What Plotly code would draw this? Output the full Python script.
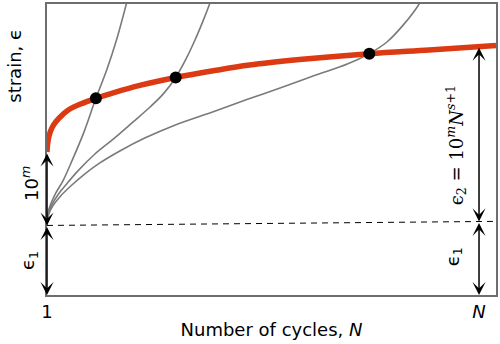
import plotly.graph_objects as go

# ---- data (arbitrary schematic units: N from "1" (0) to "N" (100); strain 0..100) ----
red_N = [0, 0.12, 0.35, 0.81, 1.62, 3.0, 4.85, 7.62, 11.32, 15.7, 21.48, 29.79, 38.8, 46.88,
         58.43, 74.6, 88.45, 103.93]
red_eps = [49.15, 51.54, 53.92, 56.31, 58.7, 61.09, 63.48, 65.53, 67.58, 69.62, 72.01, 74.74,
           77.13, 79.01, 80.89, 82.94, 84.23, 85.73]

A_N = [0, 0.23, 0.92, 2.08, 3.70, 5.77, 8.55, 11.32, 13.86, 16.17, 18.48, 18.71]
A_eps = [23.89, 28.33, 31.40, 35.15, 39.25, 46.08, 55.97, 67.58, 77.47, 88.05, 100.68, 102.05]

B_N = [0, 0.35, 1.15, 2.54, 4.39, 7.16, 11.09, 15.47, 19.86, 23.79, 27.02, 29.79, 32.10,
       34.18, 36.03, 37.64, 37.88]
B_eps = [23.89, 27.99, 31.06, 34.47, 37.88, 42.66, 48.46, 53.75, 59.39, 64.51, 69.28, 74.74,
         80.89, 87.37, 93.86, 100.0, 101.02]

C_N = [0, 0.46, 1.39, 3.00, 5.31, 8.78, 12.24, 16.86, 22.63, 29.56, 38.80, 46.42, 54.27,
       61.89, 69.52, 74.60, 78.75, 82.68, 86.14, 86.61]
C_eps = [23.89, 27.99, 30.72, 33.79, 37.20, 41.64, 45.39, 49.49, 53.92, 58.36, 63.14, 67.24,
         71.33, 75.43, 79.35, 82.94, 87.03, 93.17, 100.0, 101.37]

cross_N = [11.32, 29.79, 74.6]
cross_eps = [67.58, 74.74, 82.94]

eps1_N = [0, 103.93]
eps1_eps = [23.9, 25.3]

N_end = 100
eps2_end = 85.5

tick_vals = [0, 100]
tick_text = ["1", "<i>N</i>"]

x_range = [0, 103.93]
y_range = [0, 100]

GRAY = "#7a7a7a"
RED = "#dc3a12"
SANS = "DejaVu Sans"
SERIF = "DejaVu Serif"

fig = go.Figure()
for xs, ys in [(A_N, A_eps), (B_N, B_eps), (C_N, C_eps)]:
    fig.add_trace(go.Scatter(x=xs, y=ys, mode="lines",
                             line=dict(color=GRAY, width=1.6, shape="spline", smoothing=1.0),
                             hoverinfo="skip"))
fig.add_trace(go.Scatter(x=eps1_N, y=eps1_eps, mode="lines",
                         line=dict(color="black", width=1, dash="6px,5px"), hoverinfo="skip"))
fig.add_trace(go.Scatter(x=red_N, y=red_eps, mode="lines",
                         line=dict(color=RED, width=5.5, shape="spline", smoothing=1.0),
                         hoverinfo="skip"))
fig.add_trace(go.Scatter(x=cross_N, y=cross_eps, mode="markers",
                         marker=dict(color="black", size=12), hoverinfo="skip"))

# double-headed arrows
arrows = [
    (0, red_eps[0], 0, eps1_eps[0]),
    (0, eps1_eps[0], 0, 0),
    (N_end, eps2_end, N_end, eps1_eps[1]),
    (N_end, eps1_eps[1], N_end, 0),
]
for x0, y0, x1, y1 in arrows:
    fig.add_annotation(x=x1, y=y1, ax=x0, ay=y0, xref="x", yref="y", axref="x", ayref="y",
                       text="", showarrow=True, arrowside="end+start",
                       arrowhead=3, startarrowhead=3, arrowsize=1.45, startarrowsize=1.45,
                       arrowwidth=1.5, arrowcolor="black", standoff=0, startstandoff=0)

# rotated labels: (text, N position, strain position, font, size)
labels = [
    ("strain, ϵ", -7.4, 78.8, SANS, 18),
    ("10<sup><i>m</i></sup>", -3.9, 38.2, SANS, 18),
    ("ϵ<sub>1</sub>", -4.3, 11.8, SANS, 18),
    ("ϵ<sub>1</sub>", 94.2, 13.3, SANS, 18),
    ("ϵ<sub>2</sub> = 10<sup><i>m</i></sup><i>N</i><sup><i>s</i>+1</sup>", 94.7, 51.5, SERIF, 18),
]
for t, x, y, f, s in labels:
    fig.add_annotation(x=x / x_range[1], y=y / y_range[1], xref="paper", yref="paper",
                       text=t, showarrow=False, textangle=-90,
                       xanchor="center", yanchor="middle",
                       font=dict(family=f, size=s, color="black"))

fig.update_layout(
    width=500, height=344,
    margin=dict(l=47, r=3, t=2, b=49),
    paper_bgcolor="white", plot_bgcolor="white",
    showlegend=False,
    font=dict(family=SANS, size=18, color="black"),
    xaxis=dict(range=x_range, showgrid=False, zeroline=False, showline=True, mirror=True,
               linecolor="#6e6e6e", linewidth=1.5, tickvals=tick_vals, ticktext=tick_text,
               ticks="", tickfont=dict(size=18, family=SANS),
               title=dict(text="Number of cycles, <i>N</i>", font=dict(size=18, family=SANS),
                          standoff=2)),
    yaxis=dict(range=y_range, showgrid=False, zeroline=False, showline=True, mirror=True,
               linecolor="#6e6e6e", linewidth=1.5, showticklabels=False, ticks=""),
)

fig.write_html("out.html")
